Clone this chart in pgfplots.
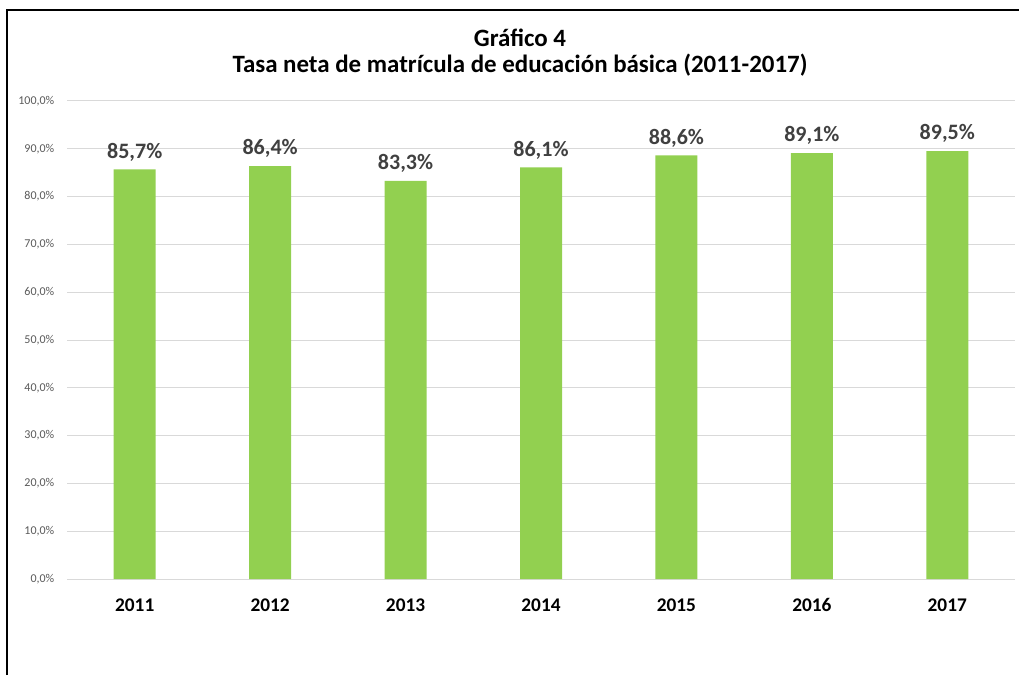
\documentclass[border=0pt]{standalone}
\usepackage{pgfplots}
\pgfplotsset{compat=1.18}
\usepackage{fontspec}
\setmainfont{Carlito}
\definecolor{bargreen}{HTML}{92D050}
\definecolor{gridgray}{HTML}{D9D9D9}
\definecolor{ticktext}{HTML}{595959}
\definecolor{labeltext}{HTML}{404040}
\begin{document}
\begin{tikzpicture}
\useasboundingbox (0,0) rectangle (764.25pt,506.25pt);
\draw[line width=1.5pt] (5.25pt,0) -- (5.25pt,498.75pt) -- (764.25pt,498.75pt);
\node[font=\bfseries\fontsize{18.7}{22}\selectfont, anchor=base] at (390pt,471.2pt) {Gráfico 4};
\node[font=\bfseries\fontsize{18.7}{22}\selectfont, anchor=base] at (390pt,451.5pt) {Tasa neta de matrícula de educación básica (2011-2017)};
\begin{axis}[
  at={(50.25pt,72pt)}, anchor=south west,
  scale only axis, width=711pt, height=358.5pt,
  xmin=-0.5, xmax=6.5, ymin=0, ymax=100,
  axis line style={draw=none},
  ytick={0,10,...,100},
  yticklabels={{0,0\%},{10,0\%},{20,0\%},{30,0\%},{40,0\%},{50,0\%},{60,0\%},{70,0\%},{80,0\%},{90,0\%},{100,0\%}},
  xtick={0,...,6},
  xticklabels={2011,2012,2013,2014,2015,2016,2017},
  major tick length=0pt,
  ymajorgrids, grid style={gridgray, line width=0.75pt},
  yticklabel style={font=\fontsize{9}{11}\selectfont, text=ticktext, xshift=-6pt},
  xticklabel style={font=\bfseries\fontsize{14.5}{17}\selectfont, text=black, yshift=-11pt},
  /pgf/number format/assume math mode=true,
  clip=false,
]
\addplot[ybar, bar width=31.5pt, fill=bargreen, draw=none,
  nodes near coords={\pgfmathprintnumber[fixed,fixed zerofill,precision=1,use comma,assume math mode=true]{\pgfplotspointmeta}\%},
  every node near coord/.style={font=\bfseries\fontsize{16.5}{19}\selectfont, text=labeltext, anchor=base, inner sep=0pt, yshift=8.5pt}]
  coordinates {(0,85.7) (1,86.4) (2,83.3) (3,86.1) (4,88.6) (5,89.1) (6,89.5)};
\end{axis}
\end{tikzpicture}
\end{document}
